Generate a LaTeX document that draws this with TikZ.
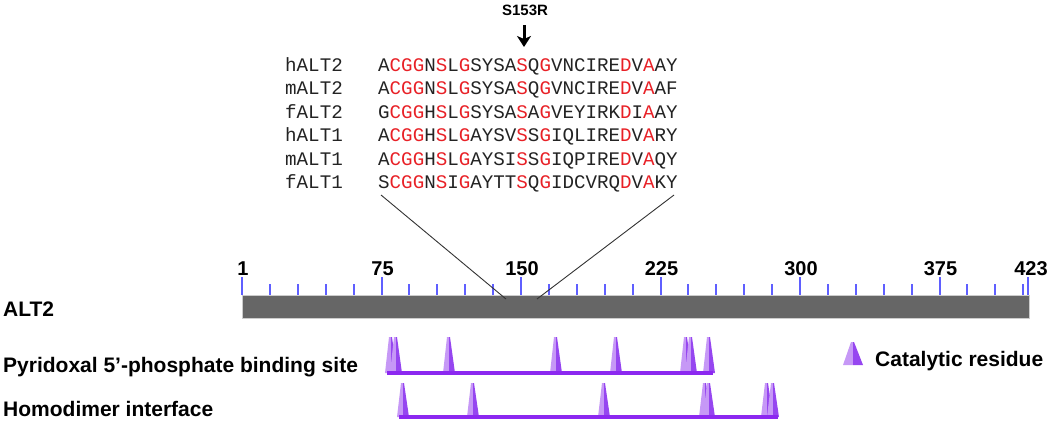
\documentclass[tikz,border=0pt]{standalone}
\usepackage{fontspec}
\setmainfont{Liberation Sans}
\newfontfamily\seqfont{Liberation Mono}
\usepackage{xcolor}
\usetikzlibrary{arrows.meta}
\definecolor{seqred}{RGB}{232,32,38}
\definecolor{seqink}{RGB}{35,35,35}
\definecolor{tickblue}{RGB}{95,95,255}
\definecolor{bargray}{RGB}{102,102,102}
\definecolor{trackpurple}{RGB}{140,40,240}
\definecolor{peaklight}{RGB}{198,152,246}
\definecolor{peakdark}{RGB}{150,70,240}
\newcommand{\redres}[1]{\textcolor{seqred}{#1}}
% catalytic residue mark: x, base, top, half width
\newcommand{\catpeak}[4]{%
  \fill[peaklight] (#1-#4,#2) -- (#1-2,#3) -- (#1,#3) -- (#1,#2) -- cycle;
  \fill[peakdark] (#1,#2) -- (#1,#3) -- (#1+1,#3) -- (#1+#4,#2) -- cycle;
}

\begin{document}
\begin{tikzpicture}[x=1pt,y=-1pt,
    seqname/.style={anchor=base west,inner sep=0,text=seqink,font=\seqfont\fontsize{19.2}{22}\selectfont},
    seqtext/.style={anchor=base west,inner sep=0,text=seqink,font=\seqfont\fontsize{19.2}{22}\selectfont},
    featlabel/.style={anchor=base west,inner sep=0,font=\fontsize{21}{24}\selectfont\bfseries},
    ticklabel/.style={anchor=base,inner sep=0,font=\fontsize{20}{24}\selectfont\bfseries},
    minortick/.style={tickblue,line width=2pt},
    majortick/.style={tickblue,line width=2pt},
    protbar/.style={draw=black!20,line width=0.6pt,fill=bargray,minimum width=787pt,minimum height=23pt,inner sep=0},
    track/.style={trackpurple,line width=3.5pt},
    zoomline/.style={black!80,line width=0.9pt} ]
  \useasboundingbox (0,0) rectangle (1050,421);

  % mutation
  \node [anchor=base,inner sep=0,font=\fontsize{15}{18}\selectfont\bfseries] (mut) at (525,15) {S153R};
  \coordinate (muttip) at (524,47);
  \draw [-{Stealth[length=11pt,width=14pt,inset=3pt]},line width=3pt] ([xshift=-1pt,yshift=-10pt]mut.south) -- (muttip);

  % alignment
  \foreach \nm/\sq [count=\i from 0] in {
      hALT2/{A\redres{CGG}N\redres{S}L\redres{G}SYSA\redres{S}Q\redres{G}VNCIRE\redres{D}V\redres{A}AY},
      mALT2/{A\redres{CGG}N\redres{S}L\redres{G}SYSA\redres{S}Q\redres{G}VNCIRE\redres{D}V\redres{A}AF},
      fALT2/{G\redres{CGG}H\redres{S}L\redres{G}SYSA\redres{S}A\redres{G}VEYIRK\redres{D}I\redres{A}AY},
      hALT1/{A\redres{CGG}H\redres{S}L\redres{G}AYSV\redres{S}S\redres{G}IQLIRE\redres{D}V\redres{A}RY},
      mALT1/{A\redres{CGG}H\redres{S}L\redres{G}AYSI\redres{S}S\redres{G}IQPIRE\redres{D}V\redres{A}QY},
      fALT1/{S\redres{CGG}N\redres{S}I\redres{G}AYTT\redres{S}Q\redres{G}IDCVRQ\redres{D}V\redres{A}KY}} {
    \node [seqname] (n\nm) at (285,{71.5+23.4*\i}) {\nm};
    \node [seqtext] (s\nm) at (378,{71.5+23.4*\i}) {\sq};
  }

  % protein bar and scale
  \node [protbar] (bar) at (635.5,306.5) {};
  \foreach \k in {0,...,28}
    \draw [minortick] ({242+\k*27.9},284) -- ({242+\k*27.9},295);
  \foreach \k/\lab in {0/1,5/75,10/150,15/225,20/300,25/375} {
    \draw [majortick] ({242+\k*27.9},277) -- ({242+\k*27.9},295);
    \node [ticklabel] (t\lab) at ({243+\k*27.9},275) {\lab};
  }
  \draw [majortick] (1028,277) -- (1028,295);
  \node [ticklabel] (t423) at (1031,275) {423};

  \coordinate (alnL) at (381,195);
  \coordinate (hitL) at (506,299);
  \coordinate (alnR) at (674,195);
  \coordinate (hitR) at (537,299);
  \draw [zoomline] (alnL) to (hitL);
  \draw [zoomline] (alnR) to (hitR);

  % labels
  \node [featlabel] (lalt) at (3,316) {ALT2};
  \node [featlabel] (lplp) at (3,372) {Pyridoxal 5’-phosphate binding site};
  \node [featlabel] (ldim) at (3,416) {Homodimer interface};

  % features
  \foreach \px in {391,396,449,556,616,686,691,709}
    \catpeak{\px}{373}{337}{6}
  \draw [track] (387,373) -- (713,373);
  \foreach \px in {403,473,604,705,709,767,773}
    \catpeak{\px}{417}{383}{6}
  \draw [track] (399,417) -- (778,417);

  % legend
  \catpeak{853}{365}{342}{10}
  \node [featlabel] (lcat) at (875,366) {Catalytic residue};
\end{tikzpicture}
\end{document}
